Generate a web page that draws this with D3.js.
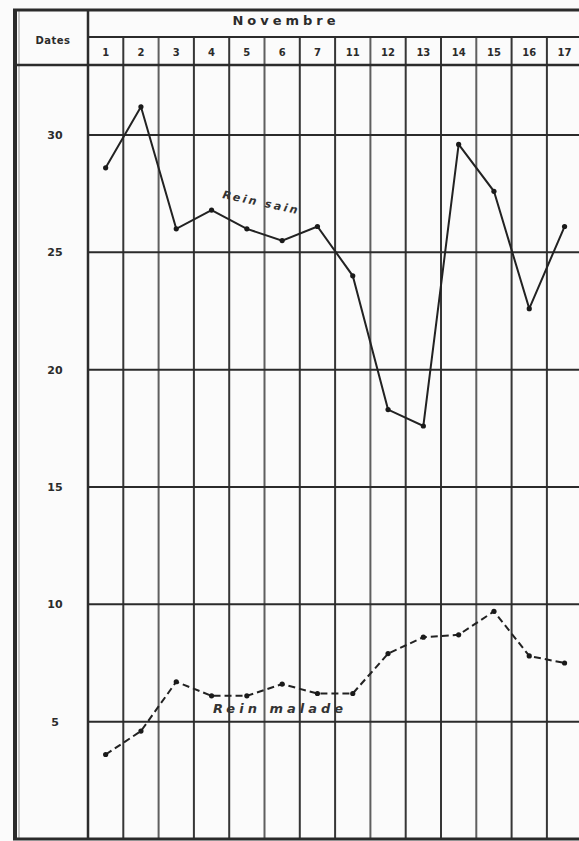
<!DOCTYPE html>
<html>
<head>
<meta charset="utf-8">
<script src="https://cdn.jsdelivr.net/npm/d3@7"></script>
<style>
  body { margin: 0; background: #fff; }
  svg { display: block; }
</style>
</head>
<body>
<svg width="579" height="841"></svg>
<script>
// data
const days = ['1', '2', '3', '4', '5', '6', '7', '11', '12', '13', '14', '15', '16', '17'];
const reinSain = [28.6, 31.2, 26.0, 26.8, 26.0, 25.5, 26.1, 24.0, 18.3, 17.6, 29.6, 27.6, 22.6, 26.1];
const reinMalade = [3.6, 4.6, 6.7, 6.1, 6.1, 6.6, 6.2, 6.2, 7.9, 8.6, 8.7, 9.7, 7.8, 7.5];
const yTicks = [5, 10, 15, 20, 25, 30];
const monthLabel = 'Novembre';
const datesLabel = 'Dates';

const svg = d3.select('svg');
const width = +svg.attr('width');
const height = +svg.attr('height');
const ink = '#2b2b2b';

const frameLeft = 15, frameTop = 10, frameBottom = 839;
const plotLeft = 88, colW = 35.3;
const monthBottom = 37, headBottom = 65;

svg.append('rect').attr('width', width).attr('height', height).attr('fill', '#fbfbfb');

const x = d3.scaleBand()
  .domain(days)
  .range([plotLeft, plotLeft + days.length * colW])
  .paddingInner(0);
const y = d3.scaleLinear().domain([0, 30]).range([frameBottom, 135]);

// vertical column lines
const g = svg.append('g');
g.selectAll('.col')
  .data(days)
  .enter().append('line')
  .attr('x1', d => x(d) + x.bandwidth())
  .attr('x2', d => x(d) + x.bandwidth())
  .attr('y1', monthBottom).attr('y2', frameBottom)
  .attr('stroke', ink)
  .attr('stroke-opacity', (d, i) => (i % 3 === 1 ? 0.75 : 0.95))
  .attr('stroke-width', 2);

// horizontal grid lines
g.selectAll('.hgrid')
  .data(yTicks)
  .enter().append('line')
  .attr('x1', plotLeft).attr('x2', width)
  .attr('y1', d => y(d)).attr('y2', d => y(d))
  .attr('stroke', ink)
  .attr('stroke-width', 2);

// header lines
g.append('line').attr('x1', plotLeft).attr('x2', width)
  .attr('y1', monthBottom).attr('y2', monthBottom)
  .attr('stroke', ink).attr('stroke-width', 2);
g.append('line').attr('x1', frameLeft).attr('x2', width)
  .attr('y1', headBottom).attr('y2', headBottom)
  .attr('stroke', ink).attr('stroke-width', 2.5);
g.append('line').attr('x1', plotLeft).attr('x2', plotLeft)
  .attr('y1', frameTop).attr('y2', frameBottom)
  .attr('stroke', ink).attr('stroke-width', 2.5);

// outer frame
g.append('line').attr('x1', frameLeft - 2).attr('x2', width)
  .attr('y1', frameTop).attr('y2', frameTop)
  .attr('stroke', ink).attr('stroke-width', 3);
g.append('line').attr('x1', frameLeft).attr('x2', frameLeft)
  .attr('y1', frameTop).attr('y2', frameBottom)
  .attr('stroke', ink).attr('stroke-width', 4);
g.append('line').attr('x1', frameLeft + 4).attr('x2', frameLeft + 4)
  .attr('y1', frameTop).attr('y2', frameBottom)
  .attr('stroke', ink).attr('stroke-width', 1).attr('stroke-opacity', 0.5);
g.append('line').attr('x1', frameLeft - 2).attr('x2', width)
  .attr('y1', frameBottom).attr('y2', frameBottom)
  .attr('stroke', ink).attr('stroke-width', 3);

// header text
svg.append('text')
  .attr('x', 286).attr('y', 25)
  .attr('text-anchor', 'middle')
  .attr('font-family', 'DejaVu Sans, sans-serif')
  .attr('font-weight', 'bold')
  .attr('font-size', 13)
  .attr('letter-spacing', 4)
  .attr('fill', ink)
  .text(monthLabel);

svg.append('text')
  .attr('x', 53).attr('y', 44)
  .attr('text-anchor', 'middle')
  .attr('font-family', 'DejaVu Sans, sans-serif')
  .attr('font-weight', 'bold')
  .attr('font-size', 10)
  .attr('letter-spacing', 0.5)
  .attr('fill', ink)
  .text(datesLabel);

svg.selectAll('.day')
  .data(days)
  .enter().append('text')
  .attr('x', d => x(d) + x.bandwidth() / 2)
  .attr('y', 56)
  .attr('text-anchor', 'middle')
  .attr('font-family', 'DejaVu Sans, sans-serif')
  .attr('font-weight', 'bold')
  .attr('font-size', 10)
  .attr('fill', ink)
  .text(d => d);

// y labels
svg.selectAll('.ylab')
  .data(yTicks)
  .enter().append('text')
  .attr('x', 55)
  .attr('y', d => y(d) + 4)
  .attr('text-anchor', 'middle')
  .attr('font-family', 'DejaVu Sans, sans-serif')
  .attr('font-weight', 'bold')
  .attr('font-size', 11)
  .attr('fill', ink)
  .text(d => d);

// series
const line = d3.line()
  .x((d, i) => x(days[i]) + x.bandwidth() / 2)
  .y(d => y(d));

svg.append('path')
  .datum(reinSain)
  .attr('d', line)
  .attr('fill', 'none')
  .attr('stroke', '#222')
  .attr('stroke-width', 2);

svg.append('path')
  .datum(reinMalade)
  .attr('d', line)
  .attr('fill', 'none')
  .attr('stroke', '#222')
  .attr('stroke-width', 2)
  .attr('stroke-dasharray', '7,4');

svg.selectAll('.pSain')
  .data(reinSain)
  .enter().append('circle')
  .attr('cx', (d, i) => x(days[i]) + x.bandwidth() / 2)
  .attr('cy', d => y(d))
  .attr('r', 2.6)
  .attr('fill', '#1a1a1a');

svg.selectAll('.pMalade')
  .data(reinMalade)
  .enter().append('circle')
  .attr('cx', (d, i) => x(days[i]) + x.bandwidth() / 2)
  .attr('cy', d => y(d))
  .attr('r', 2.6)
  .attr('fill', '#1a1a1a');

// curve labels
svg.append('text')
  .attr('transform', 'translate(222,198) rotate(12)')
  .attr('font-family', 'DejaVu Sans, sans-serif')
  .attr('font-style', 'italic')
  .attr('font-weight', 'bold')
  .attr('font-size', 11)
  .attr('letter-spacing', 2.5)
  .attr('fill', '#333')
  .text('Rein  sain');

svg.append('text')
  .attr('x', 213).attr('y', 713)
  .attr('font-family', 'DejaVu Sans, sans-serif')
  .attr('font-style', 'italic')
  .attr('font-weight', 'bold')
  .attr('font-size', 13)
  .attr('letter-spacing', 4)
  .attr('fill', '#333')
  .text('Rein  malade');
</script>
</body>
</html>
